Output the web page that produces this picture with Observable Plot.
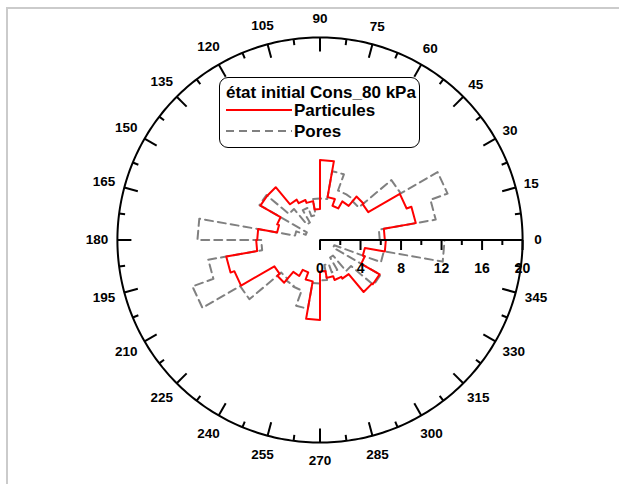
<!DOCTYPE html>
<html><head><meta charset="utf-8">
<script src="https://cdn.jsdelivr.net/npm/d3@7"></script>
<script src="https://cdn.jsdelivr.net/npm/@observablehq/plot@0.6"></script>
<style>
body{margin:0;background:#fff;font-family:"Liberation Sans",Arial,sans-serif;}
#wrap{position:relative;width:619px;height:484px;overflow:hidden;}
#frame{position:absolute;left:6px;top:7px;width:700px;height:600px;border-top:2px solid #cbcbcb;border-left:2px solid #cbcbcb;pointer-events:none;}
#legend{position:absolute;left:219px;top:77px;width:201px;height:71px;border:1px solid #000;border-radius:9px;box-sizing:border-box;background:#fff;font-weight:bold;font-size:17px;}
#legend div{position:absolute;white-space:nowrap;line-height:1;}
</style></head><body>
<div id="wrap"><div id="chart"></div><div id="frame"></div>
<div id="legend">
 <div id="ltitle" style="left:6px;top:6px;">état initial Cons_80 kPa</div>
 <svg style="position:absolute;left:5px;top:29px" width="70" height="8"><line x1="1" y1="3" x2="67" y2="3" stroke="#ff0000" stroke-width="2"/></svg>
 <div style="left:74px;top:24px;">Particules</div>
 <svg style="position:absolute;left:5px;top:49px" width="70" height="8"><line x1="1" y1="4" x2="67" y2="4" stroke="#808080" stroke-width="2" stroke-dasharray="8,5"/></svg>
 <div style="left:74px;top:45px;">Pores</div>
</div>
</div>
<script>
// bins (degrees, start of each 10° sector)
const binStart = [0,10,20,30,40,50,60,70,80,90,100,110,120,130,140,150,160,170,
                  180,190,200,210,220,230,240,250,260,270,280,290,300,310,320,330,340,350];
const particules = [6.4,9.6,9.1,5.5,5.6,4.4,3.6,4.3,7.9,
                    3.05,3.9,4.2,4.6,6.8,6.8,4.5,4.3,6.2,
                    6.3,9.4,9.0,5.2,5.5,4.1,3.4,4.15,7.9,
                    3.1,3.8,4.2,4.4,6.7,6.8,4.7,4.5,6.5];
const pores = [5.9,11.6,13.4,9.2,5.0,5.2,5.2,6.9,4.1,
               4.1,2.5,3.4,2.0,4.0,6.9,1.5,2.5,12.1,
               5.8,11.2,13.4,9.1,5.0,5.2,5.3,6.9,4.3,
               4.0,2.5,3.4,2.0,4.0,6.9,1.5,6.4,12.3];
const angleLabels = [0,15,30,45,60,75,90,105,120,135,150,165,180,195,210,225,240,255,270,285,300,315,330,345];
const radialTicks = [0,4,8,12,16,20];
const radialMinor = [2,6,10,14,18];
const rMax = 20;
const binWidth = 10;

const W = 619, H = 484, cx = 319.5, cy = 239.5, k = 10.13; // px per unit
const rad = d => d * Math.PI / 180;
const P = (r, t) => ({x: r * Math.cos(rad(t)), y: r * Math.sin(rad(t))});

function stepPts(vals) {
  const pts = [];
  vals.forEach((r, i) => { pts.push(P(r, binStart[i]), P(r, binStart[i] + binWidth)); });
  pts.push(pts[0]);
  return pts;
}
const circle = d3.range(0, 361, 1).map(t => P(rMax, t));
const tickAngles = d3.range(0, 360, 7.5).map(t => ({t, major: t % 15 === 0}));
const u = px => px / k;
// label distance from centre (px): a little farther for wide labels on the horizontal
const labelDist = d => 218 + 3 * Math.abs(Math.sin(rad(d))) + (String(d).length === 3 ? 5 * Math.abs(Math.cos(rad(d))) : 0);

const chart = Plot.plot({
  width: W, height: H, margin: 0,
  x: {domain: [-cx / k, (W - cx) / k], range: [0, W], axis: null},
  y: {domain: [(cy - H) / k, cy / k], range: [H, 0], axis: null},
  style: {fontFamily: "'Liberation Sans', Arial, sans-serif", background: "transparent"},
  marks: [
    Plot.line(stepPts(pores), {x: "x", y: "y", stroke: "#808080", strokeWidth: 2, strokeDasharray: "8,5"}),
    Plot.line(stepPts(particules), {x: "x", y: "y", stroke: "#ff0000", strokeWidth: 2}),
    Plot.line(circle, {x: "x", y: "y", stroke: "#000", strokeWidth: 2}),
    Plot.link(tickAngles, {
      x1: d => P(rMax, d.t).x, y1: d => P(rMax, d.t).y,
      x2: d => P(rMax - u(d.major ? 14 : 6), d.t).x, y2: d => P(rMax - u(d.major ? 14 : 6), d.t).y,
      stroke: "#000", strokeWidth: 2
    }),
    Plot.text(angleLabels, {
      x: d => P(u(labelDist(d)), d).x, y: d => P(u(labelDist(d)), d).y, text: d => String(d),
      fontSize: 13.5, fontWeight: "bold", fill: "#000", textAnchor: "middle", lineAnchor: "middle"
    }),
    Plot.ruleY([0], {x1: 0, x2: rMax, stroke: "#000", strokeWidth: 2}),
    Plot.link(radialTicks, {x1: d => d, x2: d => d, y1: 0, y2: -u(10), stroke: "#000", strokeWidth: 2}),
    Plot.link(radialMinor, {x1: d => d, x2: d => d, y1: 0, y2: -u(5), stroke: "#000", strokeWidth: 2}),
    Plot.text(radialTicks, {x: d => d, y: -u(28.5), text: d => String(d),
      fontSize: 14, fontWeight: "bold", fill: "#000", textAnchor: "middle", lineAnchor: "middle"})
  ]
});
document.getElementById("chart").appendChild(chart);
</script>
</body></html>
